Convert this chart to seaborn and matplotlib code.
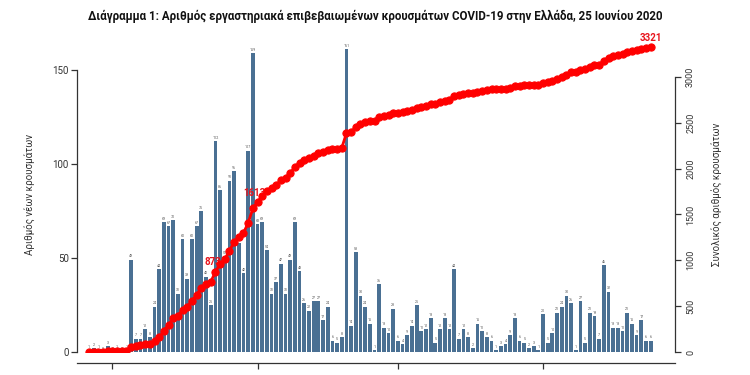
import numpy as np
import pandas as pd
import matplotlib
matplotlib.use("Agg")
import matplotlib.pyplot as plt
import seaborn as sns

# ---------------- data ----------------
start_date = "2020-02-25"
new_cases = [1, 2, 1, 0, 3, 0, 1, 0, 1,
             49, 7, 7, 12, 8, 24, 44, 69, 67, 70, 31, 60, 39, 60, 67, 75, 40, 25,
             112, 86, 51, 91, 96, 58, 42, 107, 159, 68,
             69, 54, 31, 37, 47, 31, 49, 69, 43, 26, 22, 27, 27, 17, 24,
             6, 5, 8, 161, 14, 53, 30, 24, 15, 1, 36, 13, 10, 23, 6, 4, 9, 14, 25,
             11, 12, 18, 5, 12, 18, 12, 44, 7,
             12, 8, 2, 15, 11, 8, 6, 1, 3, 4, 9, 18, 6, 5, 2, 3, 1, 20, 5, 10,
             21, 24, 30, 26, 1, 27, 5, 21, 19, 7, 46, 32, 13, 13, 11, 21, 15, 9, 17, 6, 6]
dates = pd.date_range(start_date, periods=len(new_cases))
date_labels = [d.strftime("%Y-%m-%d") for d in dates]
cumulative = np.cumsum(new_cases)

ann_dates = ["2020-03-23", "2020-03-31", "2020-06-24"]
ann_labels = ["873", "1613", "3321"]

title = ("Διάγραμμα 1: Αριθμός εργαστηριακά επιβεβαιωμένων κρουσμάτων "
         "COVID-19 στην Ελλάδα, 25 Ιουνίου 2020")
left_label = "Αριθμός νέων κρουσμάτων"
right_label = "Συνολικός αριθμός κρουσμάτων"
left_ticks = [0, 50, 100, 150]
right_ticks = [0, 500, 1000, 1500, 2000, 2500, 3000]

# ---------------- style ----------------
sns.set_theme(style="white")
plt.rcParams["font.family"] = ["Roboto", "DejaVu Sans"]

df = pd.DataFrame({"date": date_labels, "new": new_cases, "cum": cumulative})
df["pos"] = np.arange(len(df))

fig = plt.figure(figsize=(7.5, 3.75), dpi=100)
ax = fig.add_axes([0.1027, 0.0613, 0.7973, 0.8427])

sns.barplot(data=df, x="date", y="new", order=date_labels, color="#4a7093",
            saturation=1, width=0.8, linewidth=0, edgecolor="none", ax=ax)
for cont in ax.containers:
    ax.bar_label(cont, labels=[str(v) for v in new_cases], fontsize=2.6,
                 color="#555555", padding=1)

ax.set_ylim(0, 168)
ax.set_xlim(-2.56, 125.2)
ax.set_yticks(left_ticks)
ax.set_yticklabels([str(t) for t in left_ticks], fontsize=7, color="#333333")
ax.set_ylabel(left_label, fontsize=7, color="#333333", labelpad=12)
ax.set_xlabel("")
month_pos = [i for i, d in enumerate(dates) if d.day == 1]
ax.set_xticks(month_pos)
ax.set_xticklabels([""] * len(month_pos))
ax.tick_params(axis="x", direction="out", length=4, width=0.9, color="#333333",
               bottom=True)
ax.tick_params(axis="y", direction="out", length=4, width=0.9, color="#333333",
               left=True, pad=2)
for s in ["top", "right"]:
    ax.spines[s].set_visible(False)
ax.spines["left"].set_bounds(0, 150)
ax.spines["left"].set_color("#333333")
ax.spines["left"].set_linewidth(0.9)
ax.spines["bottom"].set_position(("outward", 8))
ax.spines["bottom"].set_color("#333333")
ax.spines["bottom"].set_linewidth(0.9)

ax2 = ax.twinx()
sns.lineplot(data=df, x="pos", y="cum", ax=ax2, color="red", linewidth=2,
             marker="o", markersize=5.2, markeredgecolor="red",
             markerfacecolor="red", zorder=3)
ax2.set_ylim(0, 3446)
ax2.set_xlim(-2.56, 125.2)
ax2.set_yticks(right_ticks)
ax2.set_yticklabels([str(t) for t in right_ticks], fontsize=6.5, color="#333333",
                    rotation=90, va="center")
ax2.set_ylabel(right_label, fontsize=7, color="#333333", rotation=90, labelpad=12)
ax2.set_xlabel("")
ax2.tick_params(axis="y", direction="out", length=4, width=0.9, color="#333333",
                right=True, pad=4)
for s in ["top", "left", "bottom"]:
    ax2.spines[s].set_visible(False)
ax2.spines["right"].set_bounds(0, 3000)
ax2.spines["right"].set_color("#333333")
ax2.spines["right"].set_linewidth(0.9)

offsets = [(-2, 7), (1, 8), (0, 6.5)]
for d, lab, off in zip(ann_dates, ann_labels, offsets):
    i = date_labels.index(d)
    ax2.annotate(lab, xy=(i, float(lab)), xytext=off, textcoords="offset points",
                 ha="center", va="center", fontsize=7, fontweight="bold",
                 color="#e8141c", zorder=2)

fig.text(0.5, 0.955, title, ha="center", va="center", fontsize=8.3,
         fontweight="bold", color="#111111")

fig.savefig("out.png", dpi=100)
